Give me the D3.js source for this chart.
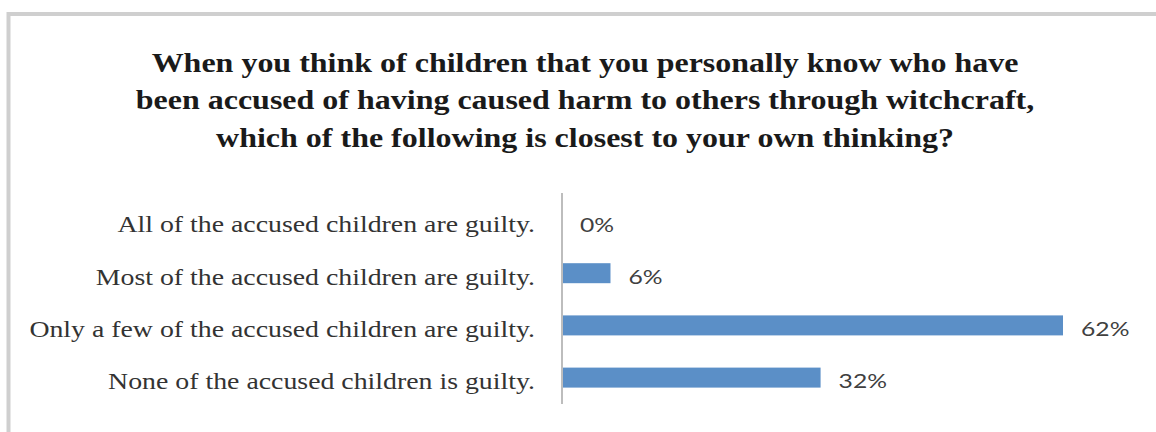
<!DOCTYPE html>
<html>
<head>
<meta charset="utf-8">
<script src="https://cdn.jsdelivr.net/npm/d3@7"></script>
<style>
  html, body { margin: 0; padding: 0; background: #fff; }
  svg { display: block; }
</style>
</head>
<body>
<svg id="chart" width="1156" height="432"></svg>
<script>
// Survey responses
const categories = [
  "All of the accused children are guilty.",
  "Most of the accused children are guilty.",
  "Only a few of the accused children are guilty.",
  "None of the accused children is guilty."
];
const percentages = [0, 6, 62, 32];
const titleLines = [
  "When you think of children that you personally know who have",
  "been accused of having caused harm to others through witchcraft,",
  "which of the following is closest to your own thinking?"
];

const svg = d3.select("#chart");
const W = 1156, H = 432;
const serif = "'Liberation Serif', 'Times New Roman', serif";

// Outer frame
svg.append("rect")
  .attr("x", 8.5).attr("y", 14).attr("width", W + 20).attr("height", H + 20)
  .attr("fill", "#fff").attr("stroke", "#cfcfcf").attr("stroke-width", 4);

// Title
svg.append("g")
  .attr("transform", `translate(585,0) scale(1.185,1)`)
  .append("text")
  .attr("text-anchor", "middle")
  .attr("font-family", serif)
  .attr("font-weight", "bold")
  .attr("font-size", 27)
  .attr("fill", "#1a1a1a")
  .selectAll("tspan")
  .data(titleLines)
  .join("tspan")
  .attr("x", 0)
  .attr("y", (d, i) => 72 + i * 37.5)
  .text(d => d);

const x0 = 562;
const x = d3.scaleLinear().domain([0, 62]).range([x0, 1063]);
const y = d3.scalePoint().domain(categories).range([221, 377.6]);
const barH = 20;

// Category axis
const yAxis = d3.axisLeft(y).tickSize(0).tickPadding(0);
const gAxis = svg.append("g").attr("transform", `translate(${x0},0)`).call(yAxis);
gAxis.select(".domain").remove();
gAxis.selectAll("text")
  .attr("x", -27 / 1.21)
  .attr("dy", "0.47em")
  .attr("transform", "scale(1.21,1)")
  .attr("font-family", serif)
  .attr("font-size", 23)
  .attr("fill", "#333");

// Bars
svg.append("g")
  .selectAll("rect")
  .data(percentages)
  .join("rect")
  .attr("x", x0)
  .attr("y", (d, i) => y(categories[i]) - barH / 2)
  .attr("width", d => x(d) - x0)
  .attr("height", barH)
  .attr("fill", "#5b8fc7");

// Baseline
svg.append("line")
  .attr("x1", x0).attr("x2", x0)
  .attr("y1", 193).attr("y2", 404)
  .attr("stroke", "#bdbdbd").attr("stroke-width", 2);

// Value labels
svg.append("g")
  .selectAll("g")
  .data(percentages)
  .join("g")
  .attr("transform", (d, i) => `translate(${x(d) + 18},${y(categories[i]) + 4}) scale(1.3,1)`)
  .append("text")
  .attr("dy", "0.35em")
  .attr("font-family", "Lato, 'Open Sans', sans-serif")
  .attr("font-size", 19)
  .attr("fill", "#404040")
  .text(d => d + "%");
</script>
</body>
</html>
